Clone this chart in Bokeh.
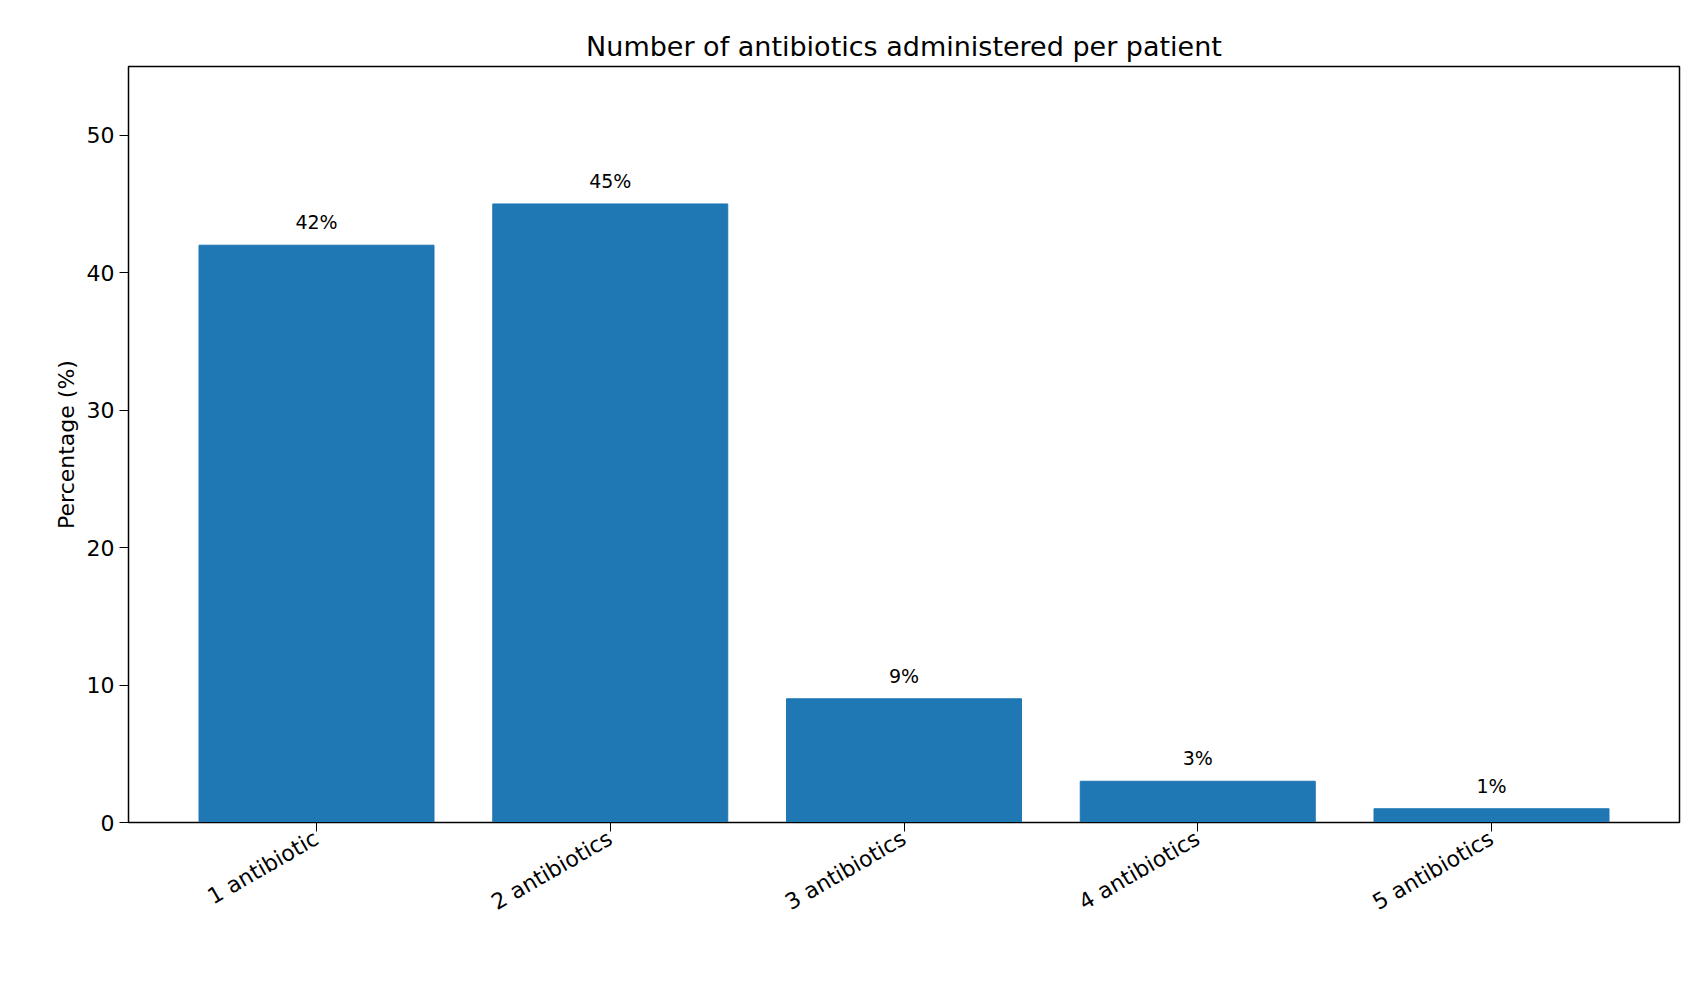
import math
from bokeh.plotting import figure
from bokeh.models import Range1d, FixedTicker, ColumnDataSource, LabelSet
from bokeh.core.properties import value
from bokeh.embed import file_html
from bokeh.resources import INLINE

categories = ["1 antibiotic", "2 antibiotics", "3 antibiotics", "4 antibiotics", "5 antibiotics"]
values = [42, 45, 9, 3, 1]
labels = [f"{v}%" for v in values]
xs = list(range(len(categories)))

src = ColumnDataSource(dict(x=xs, top=values, lab=labels))

p = figure(width=1687, height=988, output_backend="svg", toolbar_location=None,
           x_range=Range1d(-0.64, 4.64), y_range=Range1d(0, 55),
           title="Number of antibiotics administered per patient")
p.min_border_left = 128
p.min_border_right = 8
p.min_border_top = 66
p.min_border_bottom = 166
p.title.align = "center"
p.title.text_font = "DejaVu Sans"
p.title.text_font_size = "27px"
p.title.text_font_style = "normal"
p.title.text_color = "black"
p.vbar(x="x", top="top", width=0.8, source=src, color="#1f77b4")
p.add_layout(LabelSet(x="x", y="top", text="lab", source=src, text_align="center",
                      text_baseline="bottom", y_offset=12, text_font=value("DejaVu Sans"),
                      text_font_size="19px", text_color="black"))
p.xgrid.visible = False
p.ygrid.visible = False
p.xaxis.ticker = FixedTicker(ticks=xs)
p.xaxis.major_label_overrides = {i: c for i, c in enumerate(categories)}
p.xaxis.major_label_orientation = math.pi / 6
p.yaxis.ticker = FixedTicker(ticks=[0, 10, 20, 30, 40, 50])
p.yaxis.axis_label = "Percentage (%)"
for ax in (p.xaxis, p.yaxis):
    ax.major_label_text_font = "DejaVu Sans"
    ax.major_label_text_font_size = "22px"
    ax.major_label_text_color = "black"
    ax.minor_tick_line_color = None
    ax.major_tick_out = 9
    ax.major_tick_in = 0
    ax.axis_line_color = "black"
p.yaxis.axis_label_text_font = "DejaVu Sans"
p.yaxis.axis_label_text_font_size = "22px"
p.yaxis.axis_label_text_font_style = "normal"
p.yaxis.axis_label_text_color = "black"
p.outline_line_color = "black"
p.outline_line_alpha = 1
p.outline_line_width = 1.5

open("out.html", "w").write(file_html(p, INLINE))
